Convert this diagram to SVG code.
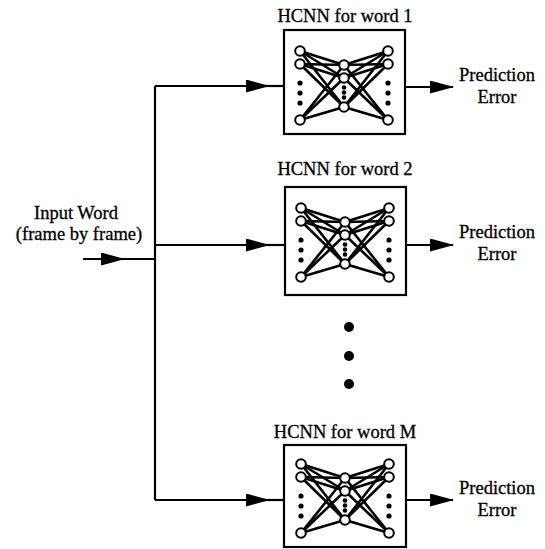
<svg xmlns="http://www.w3.org/2000/svg" xmlns:xlink="http://www.w3.org/1999/xlink" width="545" height="549" viewBox="0 0 545 549">
  <style>
    .lbl { font-family: "Liberation Serif", "Times New Roman", serif; font-size: 18.5px; fill: #000; stroke: #000; stroke-width: 0.3; }
    .box { fill: #fff; stroke: #000; stroke-width: 2.2; }
    .wire { fill: none; stroke: #000; stroke-width: 2.2; }
    .edge { stroke: #000; stroke-width: 2.6; }
    .unit { fill: #fff; stroke: #000; stroke-width: 2; }
    .dot { fill: #000; }
  </style>
  <defs>
    <marker id="arrow" markerUnits="userSpaceOnUse" markerWidth="24" markerHeight="13" refX="23" refY="6.5" orient="auto">
      <path d="M0,0 L24,6.5 L0,13 Z" fill="#000"/>
    </marker>
    <!-- three-layer network drawn inside each HCNN box, relative to the box corner -->
    <g id="net">
      <g class="edge">
        <line x1="16" y1="21" x2="60" y2="35"/><line x1="16" y1="21" x2="60" y2="48"/><line x1="16" y1="21" x2="60" y2="77"/>
        <line x1="16" y1="34" x2="60" y2="35"/><line x1="16" y1="34" x2="60" y2="48"/><line x1="16" y1="34" x2="60" y2="77"/>
        <line x1="16" y1="90" x2="60" y2="35"/><line x1="16" y1="90" x2="60" y2="48"/><line x1="16" y1="90" x2="60" y2="77"/>
        <line x1="104" y1="21" x2="60" y2="35"/><line x1="104" y1="21" x2="60" y2="48"/><line x1="104" y1="21" x2="60" y2="77"/>
        <line x1="104" y1="34" x2="60" y2="35"/><line x1="104" y1="34" x2="60" y2="48"/><line x1="104" y1="34" x2="60" y2="77"/>
        <line x1="104" y1="90" x2="60" y2="35"/><line x1="104" y1="90" x2="60" y2="48"/><line x1="104" y1="90" x2="60" y2="77"/>
      </g>
      <circle class="unit" cx="16" cy="21" r="4.8"/>
      <circle class="unit" cx="16" cy="34" r="4.8"/>
      <circle class="unit" cx="16" cy="90" r="4.8"/>
      <circle class="dot" cx="16" cy="53" r="2.6"/>
      <circle class="dot" cx="16" cy="63" r="2.6"/>
      <circle class="dot" cx="16" cy="73" r="2.6"/>
      <circle class="unit" cx="60" cy="35" r="4.8"/>
      <circle class="unit" cx="60" cy="48" r="4.8"/>
      <circle class="unit" cx="60" cy="77" r="4.8"/>
      <circle class="dot" cx="60" cy="57.5" r="2.3"/>
      <circle class="dot" cx="60" cy="62.5" r="2.3"/>
      <circle class="dot" cx="60" cy="67.5" r="2.3"/>
      <circle class="unit" cx="104" cy="21" r="4.8"/>
      <circle class="unit" cx="104" cy="34" r="4.8"/>
      <circle class="unit" cx="104" cy="90" r="4.8"/>
      <circle class="dot" cx="104" cy="53" r="2.6"/>
      <circle class="dot" cx="104" cy="63" r="2.6"/>
      <circle class="dot" cx="104" cy="73" r="2.6"/>
    </g>
  </defs>

  <rect width="545" height="549" fill="#fff"/>

  <!-- connectors -->
  <g id="connectors">
    <polyline class="wire" points="155,86 155,500"/>
    <line class="wire" x1="83" y1="259" x2="124" y2="259" marker-end="url(#arrow)"/>
    <line class="wire" x1="120" y1="259" x2="155" y2="259"/>
    <line class="wire" x1="155" y1="86" x2="269" y2="86" marker-end="url(#arrow)"/>
    <line class="wire" x1="265" y1="86" x2="284" y2="86"/>
    <line class="wire" x1="155" y1="245" x2="269" y2="245" marker-end="url(#arrow)"/>
    <line class="wire" x1="265" y1="245" x2="285" y2="245"/>
    <line class="wire" x1="155" y1="500" x2="269" y2="500" marker-end="url(#arrow)"/>
    <line class="wire" x1="265" y1="500" x2="284" y2="500"/>
    <line class="wire" x1="405" y1="87" x2="453" y2="87" marker-end="url(#arrow)"/>
    <line class="wire" x1="406" y1="245" x2="453" y2="245" marker-end="url(#arrow)"/>
    <line class="wire" x1="406" y1="500" x2="453" y2="500" marker-end="url(#arrow)"/>
  </g>

  <!-- input -->
  <g id="input">
    <text class="lbl" x="76" y="219" text-anchor="middle">Input Word</text>
    <text class="lbl" x="79" y="240" text-anchor="middle">(frame by frame)</text>
  </g>

  <!-- HCNN for word 1 -->
  <g id="hcnn1">
    <text class="lbl" x="345" y="22" text-anchor="middle">HCNN for word 1</text>
    <rect class="box" x="284" y="30" width="121" height="104"/>
    <use xlink:href="#net" href="#net" x="284" y="30"/>
  </g>

  <!-- HCNN for word 2 -->
  <g id="hcnn2">
    <text class="lbl" x="345" y="175" text-anchor="middle">HCNN for word 2</text>
    <rect class="box" x="285" y="187" width="121" height="108"/>
    <use xlink:href="#net" href="#net" x="285" y="187"/>
  </g>

  <!-- continuation dots -->
  <g id="ellipsis">
    <circle class="dot" cx="349" cy="327" r="5"/>
    <circle class="dot" cx="349" cy="356" r="5"/>
    <circle class="dot" cx="349" cy="384" r="5"/>
  </g>

  <!-- HCNN for word M -->
  <g id="hcnnM">
    <text class="lbl" x="345" y="438" text-anchor="middle">HCNN for word M</text>
    <rect class="box" x="284" y="445" width="122" height="102"/>
    <use xlink:href="#net" href="#net" x="285" y="443"/>
  </g>

  <!-- outputs -->
  <g id="out1">
    <text class="lbl" x="497" y="81" text-anchor="middle">Prediction</text>
    <text class="lbl" x="497" y="103" text-anchor="middle">Error</text>
  </g>
  <g id="out2">
    <text class="lbl" x="497" y="238" text-anchor="middle">Prediction</text>
    <text class="lbl" x="497" y="260" text-anchor="middle">Error</text>
  </g>
  <g id="outM">
    <text class="lbl" x="497" y="494" text-anchor="middle">Prediction</text>
    <text class="lbl" x="497" y="516" text-anchor="middle">Error</text>
  </g>
</svg>
